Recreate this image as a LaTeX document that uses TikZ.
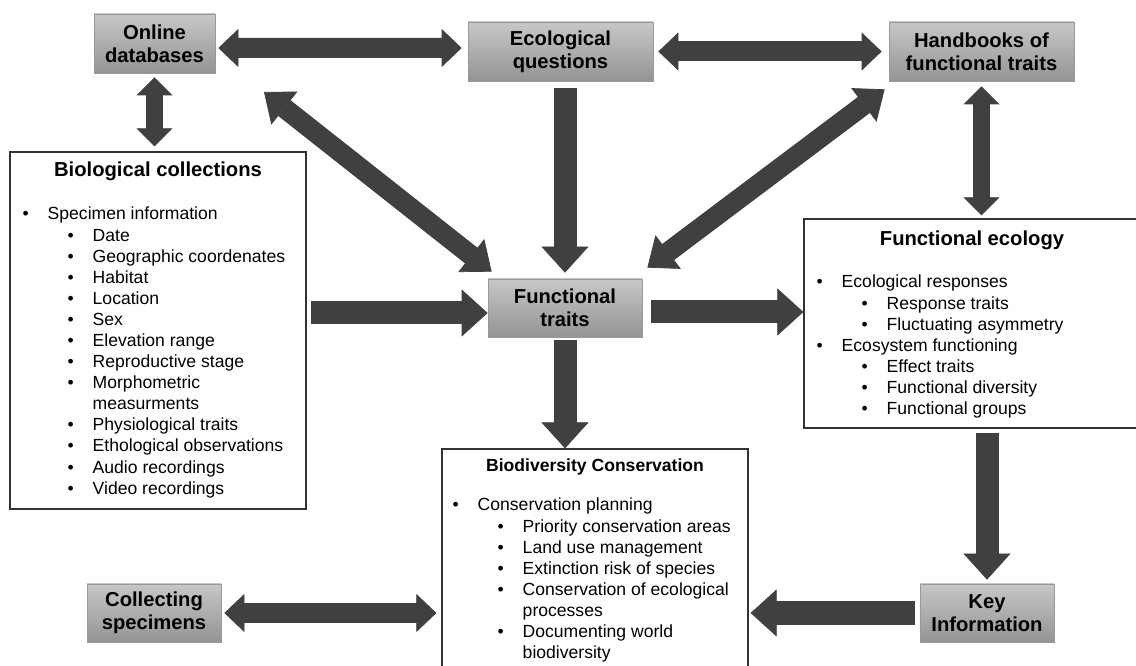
\documentclass[tikz,border=0pt]{standalone}
\usepackage{fontspec}
\setmainfont{Liberation Sans}
\usetikzlibrary{arrows.meta,positioning,calc}

% bullet lines inside the white boxes
\newcommand{\bl}[1]{\makebox[0.5cm][l]{\textbullet}#1}
\newcommand{\sbl}[1]{\hspace*{0.9cm}\makebox[0.5cm][l]{\textbullet}#1}
\newcommand{\cont}[1]{\hspace*{1.4cm}#1}

\begin{document}
\begin{tikzpicture}[
    every node/.style = {font=\fontsize{10}{12}\selectfont},
    gbox/.style = {
        rectangle,
        draw=black!40,
        top color=black!22,
        bottom color=black!42,
        align=center,
        font=\fontsize{11.5}{13}\selectfont\bfseries,
        minimum height=1.18cm,
        inner sep=0pt
    },
    wbox/.style = {
        rectangle,
        draw=black!80,
        line width=0.7pt,
        fill=white,
        inner sep=0pt
    },
    head/.style = {font=\fontsize{11.5}{14}\selectfont\bfseries, inner sep=0pt},
    items/.style = {align=left, inner sep=0pt, anchor=north west},
    fat/.style = {
        draw=black!75,
        line width=0.46cm,
        -{Triangle[length=0.52cm 0, width=0.94cm 0, line width=0.4pt 0]}
    },
    twin/.style = {
        draw=black!75,
        line width=0.40cm,
        {Triangle[length=0.40cm 0, width=0.76cm 0, line width=0.4pt 0]}-{Triangle[length=0.40cm 0, width=0.76cm 0, line width=0.4pt 0]}
    },
    twinv/.style = {
        draw=black!75,
        line width=0.33cm,
        {Triangle[length=0.36cm 0, width=0.72cm 0, line width=0.4pt 0]}-{Triangle[length=0.36cm 0, width=0.72cm 0, line width=0.4pt 0]}
    },
    twind/.style = {
        draw=black!75,
        line width=0.40cm,
        {Triangle[length=0.52cm 0, width=0.84cm 0, line width=0.4pt 0]}-{Triangle[length=0.52cm 0, width=0.84cm 0, line width=0.4pt 0]}
    }
]
\useasboundingbox (0,0) rectangle (22.72,-13.32);

% grey boxes
\node[gbox, minimum width=2.42cm] (onl) at (3.09,-0.87) {Online\\databases};
\node[gbox, minimum width=3.70cm] (eco) at (11.21,-1.03) {Ecological\\questions};
\node[gbox, minimum width=3.70cm] (hand) at (19.63,-1.03) {Handbooks of\\functional traits};
\node[gbox, minimum width=3.08cm, minimum height=1.16cm] (trt) at (11.30,-6.16) {Functional\\traits};
\node[gbox, minimum width=2.68cm, minimum height=1.16cm] (col) at (3.08,-12.26) {Collecting\\specimens};
\node[gbox, minimum width=2.68cm, minimum height=1.16cm] (key) at (19.74,-12.26) {Key\\Information};

% white boxes
\node[wbox, minimum width=5.92cm, minimum height=7.14cm] (bio) at (3.16,-6.61) {};
\node[wbox, minimum width=6.72cm, minimum height=4.18cm] (fe) at (19.44,-6.47) {};
\node[wbox, minimum width=6.12cm, minimum height=4.46cm] (bc) at (11.90,-11.21) {};

\node[head, below=0.2cm of bio.north] (biot) {Biological collections};
\node[head, below=0.24cm of fe.north] (fet) {Functional ecology};
\node[head, font=\fontsize{10}{12}\selectfont\bfseries, below=0.2cm of bc.north] (bct) {Biodiversity Conservation};

\node[items] (bioi) at ($(bio.north west)+(0.26,-1.11)$) {
    \bl{Specimen information}\\
    \sbl{Date}\\
    \sbl{Geographic coordenates}\\
    \sbl{Habitat}\\
    \sbl{Location}\\
    \sbl{Sex}\\
    \sbl{Elevation range}\\
    \sbl{Reproductive stage}\\
    \sbl{Morphometric}\\
    \cont{measurments}\\
    \sbl{Physiological traits}\\
    \sbl{Ethological observations}\\
    \sbl{Audio recordings}\\
    \sbl{Video recordings}};

\node[items] (fei) at ($(fe.north west)+(0.26,-1.13)$) {
    \bl{Ecological responses}\\
    \sbl{Response traits}\\
    \sbl{Fluctuating asymmetry}\\
    \bl{Ecosystem functioning}\\
    \sbl{Effect traits}\\
    \sbl{Functional diversity}\\
    \sbl{Functional groups}};

\node[items] (bci) at ($(bc.north west)+(0.22,-0.99)$) {
    \bl{Conservation planning}\\
    \sbl{Priority conservation areas}\\
    \sbl{Land use management}\\
    \sbl{Extinction risk of species}\\
    \sbl{Conservation of ecological}\\
    \cont{processes}\\
    \sbl{Documenting world}\\
    \cont{biodiversity}};

% arrows
\coordinate (dbtip) at (5.28,-1.84);

\draw[twin] ($(onl.east)+(0.06,-0.09)$) -- ($(eco.west)+(-0.12,0.07)$);
\draw[twin, shorten <=0.1cm, shorten >=0.14cm] (eco.east) -- (hand.west);
\draw[twinv, shorten <=0.08cm, shorten >=0.1cm] (onl.south) -- (onl.south |- bio.north);
\draw[twinv, shorten <=0.1cm, shorten >=0.06cm] (hand.south) -- (hand.south |- fe.north);

\draw[twind] ($(trt.north west)+(0.08,0.14)$) -- (dbtip);
\draw[twind] ($(trt.north east)+(0.10,0.22)$) -- ($(hand.south west)+(-0.08,-0.16)$);

\draw[fat, shorten <=0.14cm, shorten >=0.12cm] (trt.north |- eco.south) -- (trt.north);
\draw[fat, shorten <=0.06cm] (trt.south) -- (trt.south |- bc.north);
\draw[fat] ($(bio.east |- trt.west)+(0.08,-0.1)$) -- ($(trt.west)+(0,-0.1)$);
\draw[fat] ($(trt.east)+(0.18,-0.08)$) -- ($(fe.west |- trt.east)+(0,-0.08)$);
\draw[fat, shorten <=0.08cm, shorten >=0.08cm] (key.north |- fe.south) -- (key.north);
\draw[fat, shorten <=0.1cm, shorten >=0.04cm] (key.west) -- (key.west -| bc.east);
\draw[twin, shorten <=0.06cm, shorten >=0.1cm] (col.east) -- (col.east -| bc.west);

\end{tikzpicture}
\end{document}
